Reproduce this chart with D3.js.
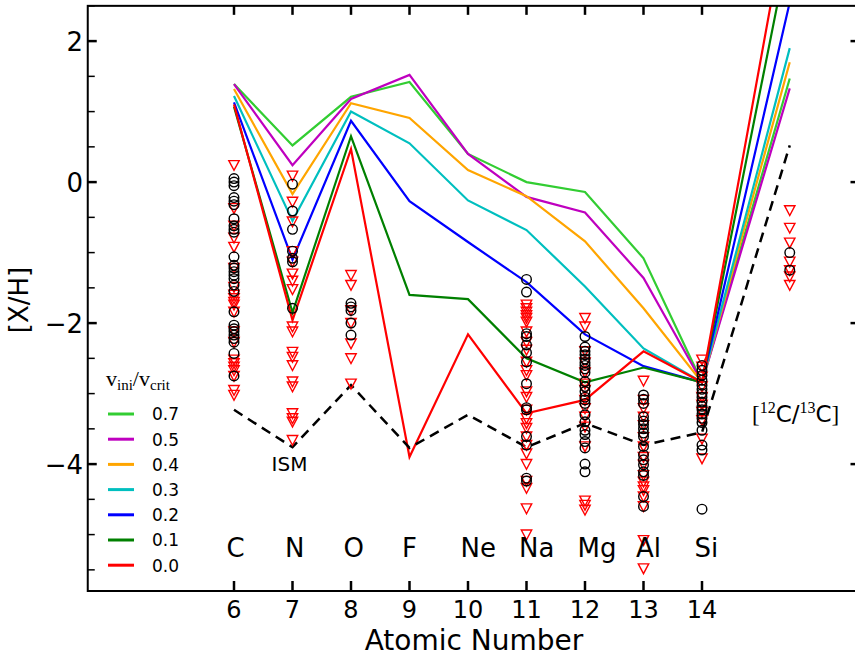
<!DOCTYPE html>
<html>
<head>
<meta charset="utf-8">
<script src="https://cdn.jsdelivr.net/npm/d3@7"></script>
<style>
  html, body { margin: 0; padding: 0; background: #fff; }
  svg { display: block; }
  text { font-family: "DejaVu Sans", sans-serif; fill: #000; }
  .serif { font-family: "Liberation Serif", "DejaVu Serif", serif; }
</style>
</head>
<body>
<svg id="chart" width="855" height="659"></svg>
<script>
// ---------------- data ----------------
const elements = ["C", "N", "O", "F", "Ne", "Na", "Mg", "Al", "Si"];
const atomicNumbers = [6, 7, 8, 9, 10, 11, 12, 13, 14];
const ratioPosition = 15.5;               // column for [12C/13C]
const xTicks = [6, 7, 8, 9, 10, 11, 12, 13, 14];
const yTicks = [2, 0, -2, -4];
const yMinorTicks = [2.5, 1.5, 1, 0.5, -0.5, -1, -1.5, -2.5, -3, -3.5, -4.5, -5, -5.5];

// model x positions: elements + the 12C/13C column
const modelX = [6, 7, 8, 9, 10, 11, 12, 13, 14, 15.5];
const velocities = ["0.7", "0.5", "0.4", "0.3", "0.2", "0.1", "0.0"];
const model07 = [1.39, 0.52, 1.21, 1.42, 0.40, 0.00, -0.14, -1.08, -2.84, 1.47];
const model05 = [1.39, 0.24, 1.18, 1.52, 0.40, -0.21, -0.43, -1.36, -2.84, 1.33];
const model04 = [1.32, -0.17, 1.12, 0.91, 0.17, -0.20, -0.84, -1.79, -2.84, 1.70];
const model03 = [1.22, -0.55, 1.00, 0.55, -0.26, -0.68, -1.48, -2.36, -2.84, 1.90];
const model02 = [1.13, -1.10, 0.87, -0.27, -0.85, -1.42, -2.16, -2.61, -2.84, 2.55];
const model01 = [1.07, -1.85, 0.65, -1.60, -1.66, -2.50, -2.84, -2.63, -2.84, 3.40];
const model00 = [1.10, -1.96, 0.47, -3.90, -2.16, -3.28, -3.09, -2.40, -2.84, 4.00];
const ism     = [-3.23, -3.76, -2.88, -3.77, -3.30, -3.76, -3.42, -3.73, -3.55, 0.52];

// observations: detections (circles) and upper limits (triangles)
const detC = [0.05, 0.0, -0.05, -0.22, -0.27, -0.32, -0.52, -0.62, -0.67, -0.71, -1.06, -1.18, -1.22, -1.27, -1.32, -1.37, -1.46, -1.55, -1.84, -2.03, -2.08, -2.12, -2.17, -2.22, -2.27, -2.43, -2.75];
const limC = [0.24, -0.37, -0.62, -0.79, -0.92, -1.22, -1.49, -1.60, -1.65, -1.70, -1.74, -1.84, -2.12, -2.27, -2.52, -2.57, -2.62, -2.67, -2.75, -2.95, -3.02];
const detN = [-0.03, -0.41, -0.67, -0.98, -1.08, -1.13, -1.79];
const limN = [0.09, -0.28, -0.56, -0.98, -1.13, -1.30, -1.40, -1.52, -2.05, -2.12, -2.41, -2.48, -2.60, -2.83, -2.90, -3.28, -3.35, -3.40, -3.66];
const detO = [-1.72, -1.77, -1.82, -2.00, -2.17];
const limO = [-1.32, -1.46, -1.82, -2.00, -2.29, -2.50, -2.86];
const detNa = [-1.38, -1.56, -2.15, -2.19, -2.31, -2.42, -2.55, -2.86, -3.20, -3.23, -3.61, -3.73, -4.20, -4.24];
const limNa = [-1.74, -1.79, -1.84, -1.89, -1.93, -1.98, -2.12, -2.27, -2.38, -2.55, -2.67, -2.74, -2.97, -3.05, -3.23, -3.35, -3.42, -3.49, -3.61, -3.73, -3.85, -4.00, -4.24, -4.34, -4.63, -5.00];
const detMg = [-2.19, -2.34, -2.40, -2.45, -2.51, -2.56, -2.60, -2.65, -2.70, -2.83, -2.90, -2.97, -3.05, -3.09, -3.14, -3.30, -3.40, -3.52, -3.58, -3.68, -3.77, -4.00, -4.11];
const limMg = [-1.93, -2.05, -2.40, -2.56, -2.70, -2.86, -2.95, -3.09, -3.21, -3.33, -3.47, -3.75, -4.52, -4.58, -4.65];
const detAl = [-3.02, -3.08, -3.14, -3.33, -3.39, -3.44, -3.50, -3.56, -3.61, -3.75, -3.87, -3.94, -4.01, -4.11, -4.16, -4.46, -4.60];
const limAl = [-2.82, -3.09, -3.21, -3.33, -3.45, -3.62, -3.75, -3.90, -4.01, -4.16, -4.25, -4.32, -4.37, -4.46, -4.60, -5.08, -5.48];
const detSi = [-2.60, -2.67, -2.74, -2.81, -2.88, -2.94, -3.00, -3.05, -3.12, -3.18, -3.23, -3.29, -3.35, -3.41, -3.52, -3.73, -3.80, -4.64];
const limSi = [-2.52, -2.62, -2.76, -2.90, -3.05, -3.16, -3.26, -3.38, -3.64, -3.92];
const detRatio = [-1.00, -1.25];
const limRatio = [-0.40, -0.65, -0.86, -1.13, -1.25, -1.34, -1.46];

// ---------------- build tables ----------------
const models = [
  { v: "0.7", values: model07, color: "#32cd32" },
  { v: "0.5", values: model05, color: "#bf00bf" },
  { v: "0.4", values: model04, color: "#ffa500" },
  { v: "0.3", values: model03, color: "#00bfbf" },
  { v: "0.2", values: model02, color: "#0000ff" },
  { v: "0.1", values: model01, color: "#008000" },
  { v: "0.0", values: model00, color: "#ff0000" }
];
const columns = [
  { x: 6, det: detC, lim: limC }, { x: 7, det: detN, lim: limN }, { x: 8, det: detO, lim: limO },
  { x: 11, det: detNa, lim: limNa }, { x: 12, det: detMg, lim: limMg }, { x: 13, det: detAl, lim: limAl },
  { x: 14, det: detSi, lim: limSi }, { x: ratioPosition, det: detRatio, lim: limRatio }
];
const detections = columns.flatMap(c => c.det.map(v => ({ x: c.x, y: v })));
const limits = columns.flatMap(c => c.lim.map(v => ({ x: c.x, y: v })));

// ---------------- layout ----------------
const svg = d3.select("#chart");
const pL = 87.75, pR = 859.5, pT = 5.85, pB = 591;
const x = d3.scaleLinear().domain([3.5, 3.5 + (pR - pL) / 58.5]).range([pL, pR]);
const y = d3.scaleLinear().domain([-5.8, 2.5]).range([pB, pT]);

svg.append("defs").append("clipPath").attr("id", "plotclip")
  .append("rect").attr("x", pL).attr("y", pT).attr("width", pR - pL).attr("height", pB - pT);

const plot = svg.append("g").attr("clip-path", "url(#plotclip)");

const line = d3.line().x((d, i) => x(modelX[i])).y(d => y(d));

// model lines
plot.selectAll("path.model").data(models).join("path")
  .attr("class", "model")
  .attr("d", d => line(d.values))
  .attr("fill", "none")
  .attr("stroke", d => d.color)
  .attr("stroke-width", 2.2)
  .attr("stroke-linejoin", "miter");

// ISM dashed line
plot.append("path").attr("d", line(ism))
  .attr("fill", "none").attr("stroke", "#000").attr("stroke-width", 2.5)
  .attr("stroke-dasharray", "10,6.5");

// upper-limit triangles
const tri = "M-5.2,-4.6 L5.2,-4.6 L0,5.2 Z";
plot.selectAll("path.lim").data(limits).join("path")
  .attr("class", "lim")
  .attr("transform", d => `translate(${x(d.x)},${y(d.y)})`)
  .attr("d", tri)
  .attr("fill", "none").attr("stroke", "#ff0000").attr("stroke-width", 1.4);

// detections
plot.selectAll("circle.det").data(detections).join("circle")
  .attr("class", "det")
  .attr("cx", d => x(d.x)).attr("cy", d => y(d.y)).attr("r", 4.8)
  .attr("fill", "none").attr("stroke", "#000").attr("stroke-width", 1.4);

// element labels
plot.selectAll("text.el").data(elements).join("text")
  .attr("class", "el")
  .attr("x", (d, i) => x(atomicNumbers[i]) - 7.5)
  .attr("y", 557)
  .attr("text-anchor", "start")
  .attr("font-size", 26)
  .text(d => d);

// ISM label
svg.append("text").attr("x", x(7) - 3).attr("y", 471).attr("text-anchor", "middle")
  .attr("font-size", 20).text("ISM");

// [12C/13C] label
const rl = svg.append("text").attr("x", 752).attr("y", 422).attr("font-size", 23);
rl.append("tspan").attr("class", "serif").text("[");
rl.append("tspan").attr("class", "serif").attr("font-size", 16).attr("dy", -9).text("12");
rl.append("tspan").attr("dy", 9).text("C/");
rl.append("tspan").attr("class", "serif").attr("font-size", 16).attr("dy", -9).text("13");
rl.append("tspan").attr("dy", 9).text("C");
rl.append("tspan").attr("class", "serif").text("]");

// ---------------- axes ----------------
const axes = svg.append("g");
axes.append("rect").attr("x", pL).attr("y", pT).attr("width", pR - pL).attr("height", pB - pT)
  .attr("fill", "none").attr("stroke", "#000").attr("stroke-width", 2);

// left & right y ticks
axes.selectAll("line.ymaj").data(yTicks).join("line")
  .attr("x1", pL).attr("x2", pL + 9).attr("y1", d => y(d)).attr("y2", d => y(d))
  .attr("stroke", "#000").attr("stroke-width", 2.5);
axes.selectAll("line.ymin").data(yMinorTicks).join("line")
  .attr("x1", pL).attr("x2", pL + 7).attr("y1", d => y(d)).attr("y2", d => y(d))
  .attr("stroke", "#000").attr("stroke-width", 1.5);
axes.selectAll("line.ymajr").data(yTicks).join("line")
  .attr("x1", pR - 9).attr("x2", pR).attr("y1", d => y(d)).attr("y2", d => y(d))
  .attr("stroke", "#000").attr("stroke-width", 2.5);

// y tick labels
axes.selectAll("text.ylab").data(yTicks).join("text")
  .attr("x", 83).attr("y", d => y(d) + 9.5)
  .attr("text-anchor", "end").attr("font-size", 26)
  .text(d => d < 0 ? "\u2212" + Math.abs(d) : String(d));

// x ticks (bottom and top)
axes.selectAll("line.xb").data(xTicks).join("line")
  .attr("x1", d => x(d)).attr("x2", d => x(d)).attr("y1", pB).attr("y2", pB - 10)
  .attr("stroke", "#000").attr("stroke-width", 2.5);
axes.selectAll("line.xt").data(xTicks).join("line")
  .attr("x1", d => x(d)).attr("x2", d => x(d)).attr("y1", pT).attr("y2", pT + 9)
  .attr("stroke", "#000").attr("stroke-width", 2.5);
axes.selectAll("text.xlab").data(xTicks).join("text")
  .attr("x", d => x(d)).attr("y", 618)
  .attr("text-anchor", "middle").attr("font-size", 24)
  .text(d => d);

// axis titles
svg.append("text").attr("x", 474).attr("y", 650).attr("text-anchor", "middle")
  .attr("font-size", 28).text("Atomic Number");
svg.append("text").attr("transform", "translate(28,300) rotate(-90)").attr("text-anchor", "middle")
  .attr("font-size", 26).text("[X/H]");

// ---------------- legend ----------------
const lg = svg.append("g");
const lt = lg.append("text").attr("class", "serif").attr("x", 106).attr("y", 386).attr("font-size", 22);
lt.append("tspan").text("v");
lt.append("tspan").attr("font-size", 15).attr("dy", 4).text("ini");
lt.append("tspan").attr("dy", -4).text("/v");
lt.append("tspan").attr("font-size", 15).attr("dy", 4).text("crit");

const rows = lg.selectAll("g.row").data(models).join("g").attr("class", "row")
  .attr("transform", (d, i) => `translate(0,${414 + i * 25.2})`);
rows.append("line").attr("x1", 108).attr("x2", 134).attr("y1", 0).attr("y2", 0)
  .attr("stroke", d => d.color).attr("stroke-width", 3);
rows.append("text").attr("x", 152).attr("y", 6.3).attr("font-size", 17).text(d => d.v);
</script>
</body>
</html>
